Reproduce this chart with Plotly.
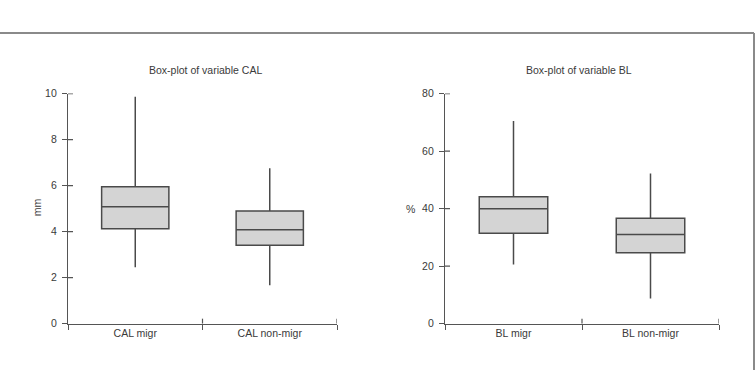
import plotly.graph_objects as go

W, H = 756, 376

# ---- data ----
cal_categories = ["CAL migr", "CAL non-migr"]
cal_lower = [2.45, 1.67]
cal_q1 = [4.12, 3.40]
cal_median = [5.08, 4.08]
cal_q3 = [5.95, 4.89]
cal_upper = [9.86, 6.75]
cal_ticks = [0, 2, 4, 6, 8, 10]

bl_categories = ["BL migr", "BL non-migr"]
bl_lower = [20.5, 8.7]
bl_q1 = [31.4, 24.6]
bl_median = [39.9, 31.0]
bl_q3 = [44.1, 36.6]
bl_upper = [70.5, 52.2]
bl_ticks = [0, 20, 40, 60, 80]

FONT = "Liberation Sans, Arial, sans-serif"
TXT = "#3a3a3a"
AX = "#555555"
BOXLINE = "#4a4a4a"
FILL = "#d4d4d4"


def px(x):
    return x / W


def py(y):
    return 1 - y / H


fig = go.Figure()

fig.add_trace(go.Box(
    x=cal_categories, q1=cal_q1, median=cal_median, q3=cal_q3,
    lowerfence=cal_lower, upperfence=cal_upper,
    width=0.5, whiskerwidth=0, fillcolor=FILL,
    line=dict(color=BOXLINE, width=1.5), boxpoints=False,
    xaxis="x", yaxis="y", showlegend=False, hoverinfo="skip"))

fig.add_trace(go.Box(
    x=bl_categories, q1=bl_q1, median=bl_median, q3=bl_q3,
    lowerfence=bl_lower, upperfence=bl_upper,
    width=0.5, whiskerwidth=0, fillcolor=FILL,
    line=dict(color=BOXLINE, width=1.5), boxpoints=False,
    xaxis="x2", yaxis="y2", showlegend=False, hoverinfo="skip"))

ydom = [py(328), py(90.5)]
common_x = dict(type="category", range=[-0.5, 1.5], showgrid=False, zeroline=False,
                showline=True, linecolor=AX, linewidth=1.2,
                ticks="outside", ticklen=5, tickcolor=AX, tickwidth=1.2,
                tickson="boundaries", tickfont=dict(family=FONT, size=10.5, color=TXT),
                fixedrange=True)
common_y = dict(showgrid=False, zeroline=False, showline=True, linecolor=AX, linewidth=1.2,
                ticks="outside", ticklen=5, tickcolor=AX, tickwidth=1.2,
                tickfont=dict(family=FONT, size=10.5, color=TXT), domain=ydom,
                ticklabelstandoff=3, fixedrange=True)

fig.update_layout(
    width=W, height=H, margin=dict(l=0, r=0, t=0, b=0),
    paper_bgcolor="white", plot_bgcolor="white",
    xaxis=dict(common_x, domain=[px(68), px(337)], anchor="y"),
    yaxis=dict(common_y, range=[0, 10], tickvals=cal_ticks, anchor="x"),
    xaxis2=dict(common_x, domain=[px(445), px(719)], anchor="y2"),
    yaxis2=dict(common_y, range=[0, 80], tickvals=bl_ticks, anchor="x2"),
)

shapes = []
# inside halves of tick marks
for v in cal_ticks[1:]:
    shapes.append(dict(type="line", xref="x domain", yref="y", x0=0, x1=5 / 269, y0=v, y1=v,
                       line=dict(color=AX, width=1.2)))
for v in bl_ticks[1:]:
    shapes.append(dict(type="line", xref="x2 domain", yref="y2", x0=0, x1=5 / 274, y0=v, y1=v,
                       line=dict(color=AX, width=1.2)))
for xr, yr in (("x", "y domain"), ("x2", "y2 domain")):
    for b in (0.5, 1.5):
        shapes.append(dict(type="line", xref=xr, yref=yr, x0=b, x1=b, y0=0, y1=5 / 237,
                           line=dict(color=AX, width=1.2)))
# frame lines
shapes.append(dict(type="line", xref="paper", yref="paper", x0=0, x1=px(754), y0=py(28), y1=py(28),
                   line=dict(color="#8a8a8a", width=2)))
shapes.append(dict(type="line", xref="paper", yref="paper", x0=px(754), x1=px(754), y0=py(28), y1=0,
                   line=dict(color="#8a8a8a", width=2)))
fig.update_layout(shapes=shapes)

annotations = [
    dict(text="Box-plot of variable CAL", x=px(205), y=py(66), xref="paper", yref="paper",
         xanchor="center", yanchor="middle",
         showarrow=False, font=dict(family=FONT, size=10.5, color=TXT)),
    dict(text="Box-plot of variable BL", x=px(579), y=py(66), xref="paper", yref="paper",
         xanchor="center", yanchor="middle",
         showarrow=False, font=dict(family=FONT, size=10.5, color=TXT)),
    dict(text="mm", x=px(37), y=py(208), xref="paper", yref="paper", textangle=-90,
         xanchor="center", yanchor="middle",
         showarrow=False, font=dict(family=FONT, size=10.5, color=TXT)),
    dict(text="%", x=px(411), y=py(210), xref="paper", yref="paper",
         xanchor="center", yanchor="middle",
         showarrow=False, font=dict(family=FONT, size=10.5, color=TXT)),
]
fig.update_layout(annotations=annotations)

fig.write_html("out.html")
